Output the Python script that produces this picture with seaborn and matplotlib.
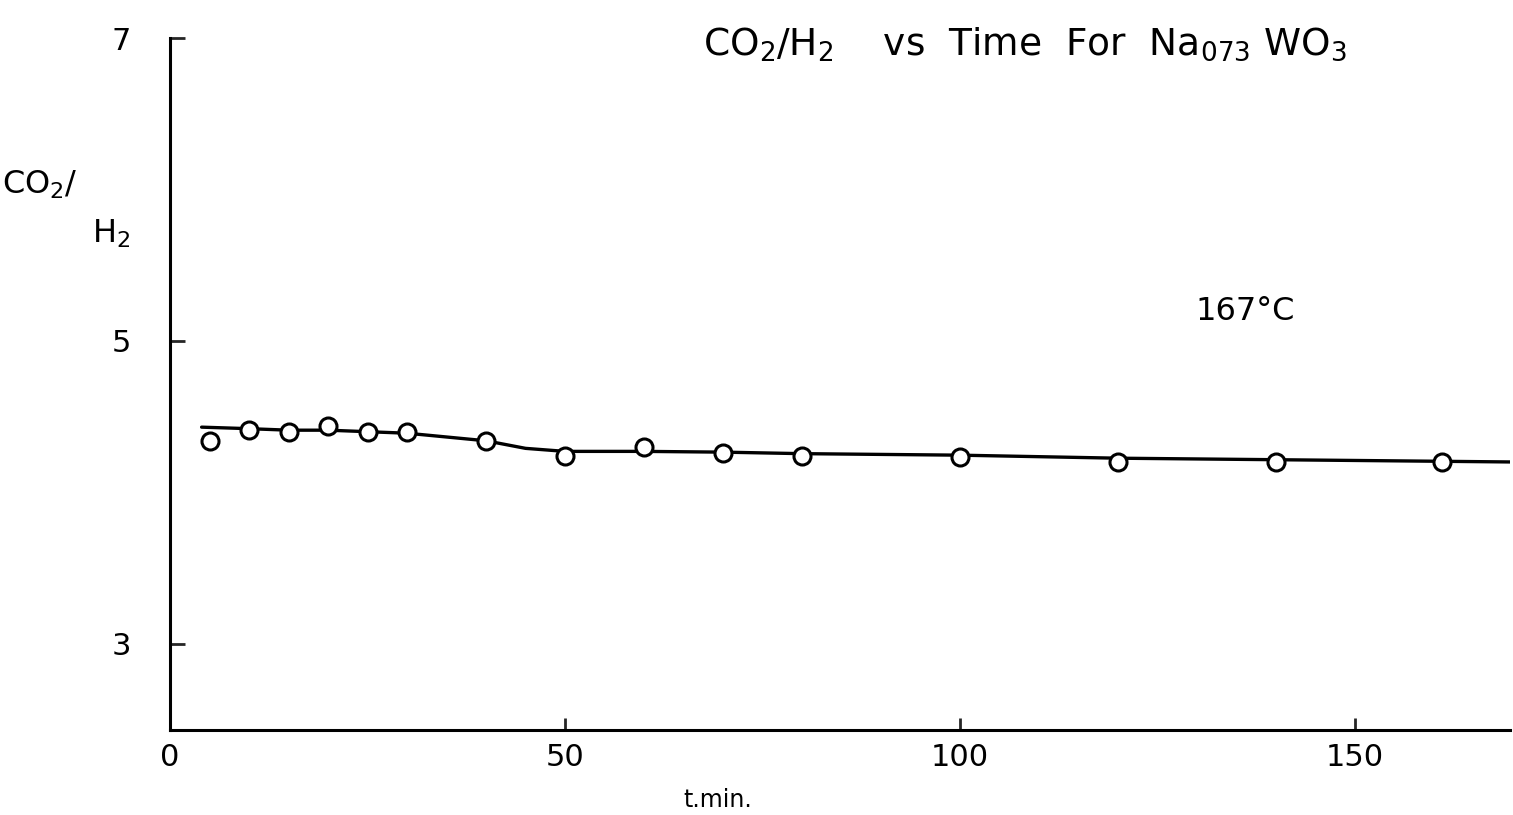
import numpy as np
import pandas as pd
import matplotlib
matplotlib.use("Agg")
import matplotlib.pyplot as plt
import seaborn as sns

# measured points (time in min, CO2/H2 ratio)
time_min = [5, 10, 15, 20, 25, 30, 40, 50, 60, 70, 80, 100, 120, 140, 161]
ratio = [4.34, 4.41, 4.40, 4.44, 4.40, 4.40, 4.34, 4.24, 4.30, 4.26, 4.24, 4.23, 4.20, 4.20, 4.20]

# hand-drawn smooth curve through the points
curve_t = [4, 10, 15, 20, 25, 30, 40, 45, 50, 60, 70, 80, 100, 120, 140, 160, 170]
curve_y = [4.43, 4.42, 4.41, 4.41, 4.40, 4.39, 4.34, 4.29, 4.27, 4.27, 4.265, 4.255, 4.245, 4.225, 4.215, 4.205, 4.20]

x_ticks = [0, 50, 100, 150]
y_ticks = [3, 5, 7]

points = pd.DataFrame({"t": time_min, "r": ratio})
curve = pd.DataFrame({"t": curve_t, "r": curve_y})

sns.set_style("ticks")
plt.rcParams["font.family"] = ["DejaVu Sans"]
plt.rcParams["text.color"] = "black"

fig = plt.figure(figsize=(15.13, 8.15), dpi=100)
ax = fig.add_axes([170 / 1513, 1 - 730 / 815, 1340 / 1513, 692 / 815])

sns.lineplot(data=curve, x="t", y="r", color="black", linewidth=2.4, ax=ax, zorder=2)
sns.scatterplot(data=points, x="t", y="r", s=150, marker="o", facecolor="white",
                edgecolor="black", linewidth=2.2, ax=ax, zorder=3)

ax.set_xlim(0, 169.6)
ax.set_ylim(2.43, 7.0)
ax.set_xticks(x_ticks)
ax.set_yticks(y_ticks)
ax.set_xticklabels([str(v) for v in x_ticks], fontsize=22)
ax.set_yticklabels([str(v) for v in y_ticks], fontsize=22)
ax.tick_params(axis="y", direction="in", length=11, width=2, pad=28, labelcolor="black")
ax.tick_params(axis="x", direction="in", length=9, width=2, pad=9, labelcolor="black")
ax.set_xlabel("")
ax.set_ylabel("")

sns.despine(ax=ax)
for side in ["left", "bottom"]:
    ax.spines[side].set_linewidth(2.2)
    ax.spines[side].set_color("black")

fig.text(1025 / 1513, 1 - 44 / 815, r"CO$_2$/H$_2$    vs  Time  For  Na$_{073}$ WO$_3$",
         fontsize=27, ha="center", va="center")
fig.text(2 / 1513, 1 - 185 / 815, r"CO$_2$/", fontsize=23, ha="left", va="center")
fig.text(92 / 1513, 1 - 234 / 815, r"H$_2$", fontsize=23, ha="left", va="center")
fig.text(1245 / 1513, 1 - 312 / 815, "167°C", fontsize=23, ha="center", va="center")
fig.text(718 / 1513, 1 - 800 / 815, "t.min.", fontsize=17, ha="center", va="center")

fig.savefig("out.png", dpi=100)
